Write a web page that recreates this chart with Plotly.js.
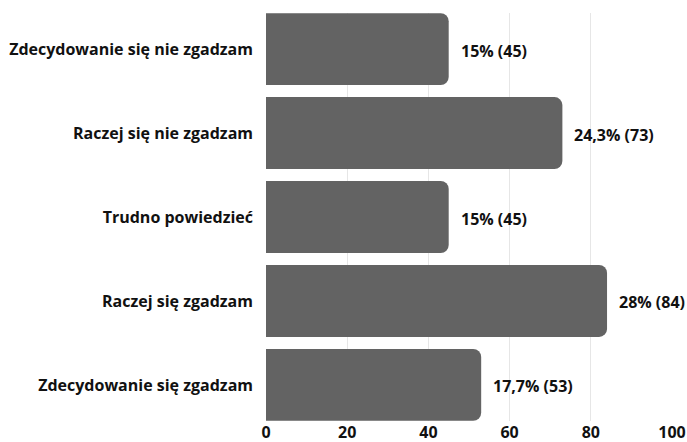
<!DOCTYPE html>
<html>
<head>
<meta charset="utf-8">
<script src="https://cdn.plot.ly/plotly-3.0.1.min.js"></script>
<style>html,body{margin:0;padding:0;background:#fff;}#chart{width:687px;height:442px;}</style>
</head>
<body>
<div id="chart"></div>
<script>
const categories = ["Zdecydowanie się nie zgadzam", "Raczej się nie zgadzam", "Trudno powiedzieć", "Raczej się zgadzam", "Zdecydowanie się zgadzam"];
const counts = [45, 73, 45, 84, 53];
const percents = ["15%", "24,3%", "15%", "28%", "17,7%"];
const xTicks = [0, 20, 40, 60, 80, 100];

const labels = percents.map((p, i) => p + " (" + counts[i] + ")");

const trace = {
  type: "bar",
  orientation: "h",
  y: categories,
  x: counts,
  marker: {color: "#636363", cornerradius: 8, line: {width: 0}},
  hoverinfo: "skip"
};

const annotations = counts.map((v, i) => ({
  x: v, y: categories[i], xref: "x", yref: "y",
  text: labels[i], showarrow: false, xanchor: "left", yanchor: "middle",
  xshift: 10, yshift: -1.5, font: {family: "Open Sans", size: 16, color: "#111", weight: 700}
}));

const layout = {
  width: 687, height: 442,
  margin: {l: 266, r: 15, t: 13, b: 21},
  paper_bgcolor: "#fff", plot_bgcolor: "#fff",
  bargap: 0.143,
  showlegend: false,
  font: {family: "Open Sans", color: "#111"},
  xaxis: {
    range: [0, 100], tickvals: xTicks, ticktext: xTicks.map(String),
    showgrid: true, gridcolor: "#e6e6e6", gridwidth: 1, zeroline: false,
    showline: false, ticks: "", fixedrange: true,
    tickfont: {family: "Open Sans", size: 16, color: "#111", weight: 700}
  },
  yaxis: {
    type: "category", range: [4.43, -0.43],
    showgrid: false, zeroline: false, showline: false, ticks: "",
    ticklabelstandoff: 12,
    tickfont: {family: "Open Sans", size: 16, color: "#111", weight: 700}
  },
  annotations: annotations
};

Plotly.newPlot("chart", [trace], layout, {displayModeBar: false, staticPlot: true});
</script>
</body>
</html>
